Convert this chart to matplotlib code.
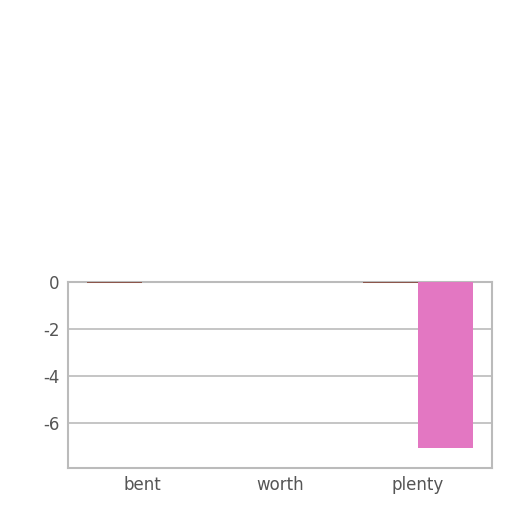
import numpy as np
import matplotlib.pyplot as plt

categories = ['bent', 'worth', 'plenty']
series_a = [-0.03, -0.02, -0.03]
series_b = [-0.02, -0.02, -7.05]
colors = ['#8c564b', '#e377c2']

plt.rcParams['axes.unicode_minus'] = False

fig = plt.figure(figsize=(5.12, 5.12), dpi=100)
ax = fig.add_axes([68 / 512, 1 - 468 / 512, 424 / 512, 186 / 512])

x = np.arange(len(categories))
w = 0.4
ax.bar(x - w / 2, series_a, w, color=colors[0], zorder=3)
ax.bar(x + w / 2, series_b, w, color=colors[1], zorder=3)

ax.set_ylim(-7.9, 0)
ax.set_yticks([0, -2, -4, -6])
ax.set_xticks(x)
ax.set_xticklabels(categories)
ax.yaxis.grid(True, color='#bbbbbb', linewidth=1.2, zorder=0)
ax.tick_params(length=0, labelsize=12, labelcolor='#555555', pad=6)
for s in ax.spines.values():
    s.set_color('#bbbbbb')
    s.set_linewidth(1.5)

fig.savefig('out.png', dpi=100)
